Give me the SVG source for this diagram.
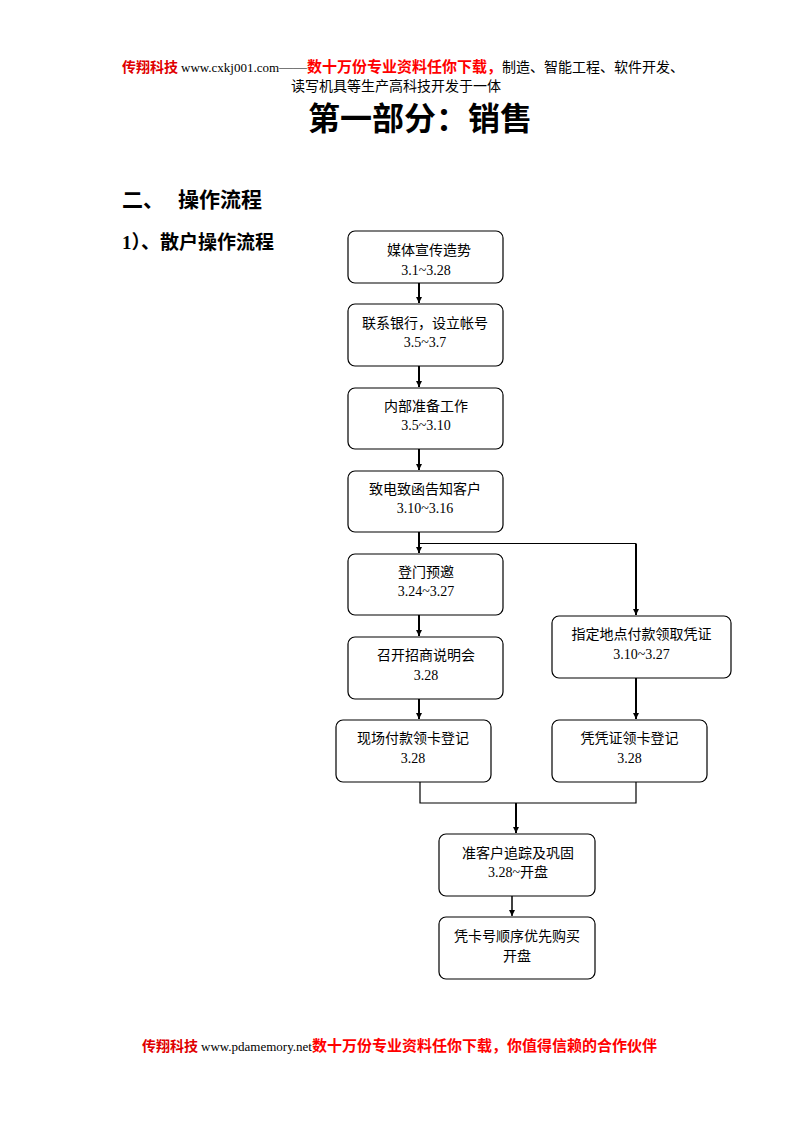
<svg xmlns="http://www.w3.org/2000/svg" width="794" height="1123" viewBox="0 0 794 1123">
<style>
.bg{fill:#fff}
.box{fill:#fff;stroke:#000;stroke-width:1.2}
.t{font-family:"Liberation Serif","Noto Sans CJK SC",serif;font-size:14px;fill:#000;text-anchor:middle}
.ln{fill:none;stroke:#000}
.brand{font-family:"Noto Sans CJK SC",sans-serif;font-weight:bold;fill:#e00000;font-size:14px}
.url{font-family:"Liberation Serif",serif;font-size:13px;fill:#000}
.red{font-family:"Liberation Serif","Noto Sans CJK SC",sans-serif;font-weight:bold;fill:#ff0000;font-size:15px}
.blk{font-family:"Liberation Serif","Noto Sans CJK SC",sans-serif;fill:#000;font-size:14px}
.h{font-family:"Liberation Serif","Noto Sans CJK SC",sans-serif;font-weight:bold;fill:#000}
</style>
<defs>
<marker id="ah" viewBox="0 0 6 6" refX="6" refY="3" markerWidth="6" markerHeight="6" markerUnits="userSpaceOnUse" orient="auto">
<path d="M0,0 L6,3 L0,6 Z" fill="#000"/>
</marker>
</defs>
<rect class="bg" x="0" y="0" width="794" height="1123"/>

<g id="header">
<text x="122" y="72"><tspan class="brand">传翔科技</tspan><tspan class="url" dx="3">www.cxkj001.com</tspan><tspan class="blk" font-family="Noto Sans CJK SC, sans-serif" font-size="11">——</tspan><tspan class="red">数十万份专业资料任你下载，</tspan><tspan class="blk">制造、智能工程、软件开发、</tspan></text>
<text class="blk" x="396" y="91" text-anchor="middle">读写机具等生产高科技开发于一体</text>
<text class="h" x="420" y="130" font-size="32" text-anchor="middle">第一部分：销售</text>
<text class="h" x="122" y="207" font-size="21">二、<tspan x="178">操作流程</tspan></text>
<text class="h" x="122" y="249" font-size="19">1）、散户操作流程</text>
</g>

<g id="connectors">
<path class="ln" stroke-width="2" d="M419,283 V303" marker-end="url(#ah)"/>
<path class="ln" stroke-width="2" d="M419,366 V387" marker-end="url(#ah)"/>
<path class="ln" stroke-width="2" d="M419,449 V470" marker-end="url(#ah)"/>
<path class="ln" stroke-width="2" d="M419,532 V553" marker-end="url(#ah)"/>
<path class="ln" stroke-width="1.2" d="M419,543.5 H636"/>
<path class="ln" stroke-width="2" d="M636,543.5 V615" marker-end="url(#ah)"/>
<path class="ln" stroke-width="2" d="M419,615 V636" marker-end="url(#ah)"/>
<path class="ln" stroke-width="2" d="M419,699 V719" marker-end="url(#ah)"/>
<path class="ln" stroke-width="2" d="M636,678 V719" marker-end="url(#ah)"/>
<path class="ln" stroke-width="1.2" d="M420,782 V803 H636 V782"/>
<path class="ln" stroke-width="2" d="M516,803 V833" marker-end="url(#ah)"/>
<path class="ln" stroke-width="1.5" d="M512,896 V916" marker-end="url(#ah)"/>
</g>

<g id="n1"><rect class="box" x="348" y="231" width="155" height="52" rx="7"/><text class="t" x="429" y="255">媒体宣传造势</text><text class="t" x="426" y="275">3.1~3.28</text></g>
<g id="n2"><rect class="box" x="348" y="304" width="155" height="62" rx="7"/><text class="t" x="425" y="328">联系银行，设立帐号</text><text class="t" x="425" y="347">3.5~3.7</text></g>
<g id="n3"><rect class="box" x="348" y="388" width="155" height="61" rx="7"/><text class="t" x="426" y="411">内部准备工作</text><text class="t" x="426" y="430">3.5~3.10</text></g>
<g id="n4"><rect class="box" x="348" y="471" width="155" height="61" rx="7"/><text class="t" x="425" y="494">致电致函告知客户</text><text class="t" x="425" y="513">3.10~3.16</text></g>
<g id="n5"><rect class="box" x="348" y="554" width="155" height="61" rx="7"/><text class="t" x="426" y="577">登门预邀</text><text class="t" x="426" y="596">3.24~3.27</text></g>
<g id="n6"><rect class="box" x="348" y="637" width="155" height="62" rx="7"/><text class="t" x="426" y="660">召开招商说明会</text><text class="t" x="426" y="680">3.28</text></g>
<g id="n7"><rect class="box" x="336" y="720" width="155" height="62" rx="7"/><text class="t" x="413" y="743">现场付款领卡登记</text><text class="t" x="413" y="763">3.28</text></g>
<g id="n8"><rect class="box" x="552" y="616" width="179" height="62" rx="7"/><text class="t" x="641.5" y="639">指定地点付款领取凭证</text><text class="t" x="641.5" y="659">3.10~3.27</text></g>
<g id="n9"><rect class="box" x="552" y="720" width="155" height="62" rx="7"/><text class="t" x="629.5" y="743">凭凭证领卡登记</text><text class="t" x="629.5" y="763">3.28</text></g>
<g id="n10"><rect class="box" x="439" y="834" width="156" height="62" rx="7"/><text class="t" x="518" y="858">准客户追踪及巩固</text><text class="t" x="518" y="877">3.28~开盘</text></g>
<g id="n11"><rect class="box" x="439" y="917" width="156" height="62" rx="7"/><text class="t" x="517" y="941">凭卡号顺序优先购买</text><text class="t" x="517" y="961">开盘</text></g>

<g id="footer">
<text x="142" y="1051"><tspan class="brand">传翔科技</tspan><tspan class="url" dx="3" font-size="12">www.pdamemory.net</tspan><tspan class="red">数十万份专业资料任你下载，你值得信赖的合作伙伴</tspan></text>
</g>
</svg>
